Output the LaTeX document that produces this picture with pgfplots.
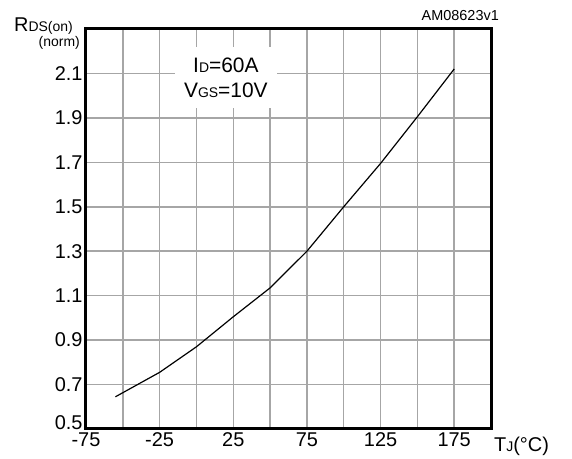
\documentclass[border=0pt]{standalone}
\usepackage{pgfplots}
\pgfplotsset{compat=1.18}
\usepackage{fontspec}
\setmainfont{Liberation Sans}
\newcommand\sub[1]{{\fontsize{14}{16}\selectfont #1}}
\newcommand\mainsize{\fontsize{20}{24}\selectfont}

\begin{document}
\begin{tikzpicture}[x=1bp,y=1bp]
\begin{axis}[
  scale only axis, width=405bp, height=400bp,
  xmin=-75, xmax=200, ymin=0.5, ymax=2.3,
  xtick={-75,-25,25,75,125,175},
  xticklabels={-75,-25,25,75,125,175},
  minor xtick={-50,0,50,100,150,200},
  ytick={0.7,0.9,1.1,1.3,1.5,1.7,1.9,2.1},
  yticklabels={0.7,0.9,1.1,1.3,1.5,1.7,1.9,2.1},
  extra y ticks={0.5},
  extra y tick labels={0.5},
  extra y tick style={grid=none, yticklabel style={yshift=6bp}},
  major tick length=0pt, minor tick length=0pt,
  grid=both,
  major grid style={draw=gray!70, line width=1.5bp},
  minor grid style={draw=gray!70, line width=1.5bp},
  axis line style={line width=3bp, black},
  tick label style={font=\mainsize},
]
\addplot[black, line width=1.2bp, sharp plot] coordinates {
  (-55,0.645) (-25,0.755) (0,0.870) (25,1.005) (50,1.135)
  (75,1.300) (100,1.500) (125,1.695) (150,1.905) (175,2.120)
};
\node[fill=white, minimum width=102bp, minimum height=61bp, inner sep=0pt]
  at (axis cs:20,2.08) {};
\node[align=center, inner sep=0pt, font=\fontsize{21}{24.3}\selectfont]
  at (axis cs:20,2.08) {I\sub{D}=60A\\V\sub{GS}=10V};
\coordinate (O) at (rel axis cs:0,0);
\end{axis}
\node[anchor=base west, inner sep=0pt, font=\mainsize] at ([shift={(-72,397)}]O) {R\sub{DS(on)}};
\node[anchor=base east, inner sep=0pt] at ([shift={(-6,382)}]O) {\sub{(norm)}};
\node[anchor=base east, inner sep=0pt, font=\fontsize{14.5}{16}\selectfont] at ([shift={(413,408.3)}]O) {AM08623v1};
\node[anchor=base west, inner sep=0pt, font=\mainsize] at ([shift={(408,-22.7)}]O) {T\sub{J}(°C)};
\pgfresetboundingbox
\path[use as bounding box] ([shift={(-86,-30)}]O) rectangle ([shift={(486,429)}]O);
\end{tikzpicture}
\end{document}
